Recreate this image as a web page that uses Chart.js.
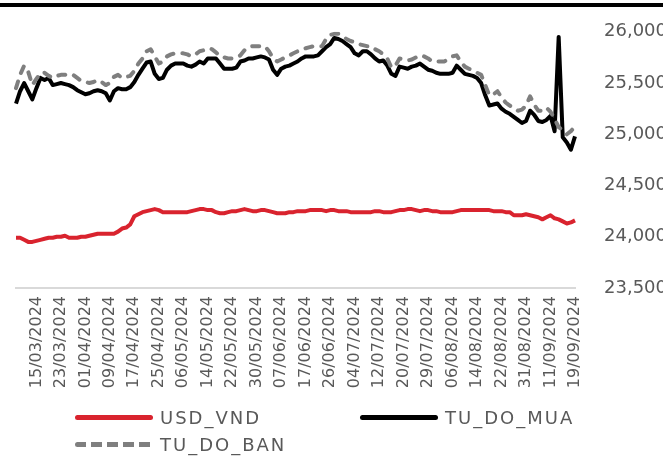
<!DOCTYPE html>
<html>
<head>
<meta charset="utf-8">
<script src="https://cdn.jsdelivr.net/npm/chart.js@4.4.1/dist/chart.umd.min.js"></script>
<style>
  html,body{margin:0;padding:0;background:#fff;}
  #wrap{position:relative;width:663px;height:472px;overflow:hidden;}
  #topline{position:absolute;left:0;top:3px;width:663px;height:4px;background:#000;}
  .lg{position:absolute;display:flex;align-items:center;font-family:"DejaVu Sans",sans-serif;font-size:18px;letter-spacing:2px;color:#595959;}
  .sw{width:78px;height:5px;border-radius:3px;margin-right:7px;}
</style>
</head>
<body>
<div id="wrap">
  <canvas id="chartFx" width="663" height="472"></canvas>
  <div id="topline"></div>
  <div class="lg" style="left:75px;top:407px"><div class="sw" style="background:#d9232e"></div>USD_VND</div>
  <div class="lg" style="left:360px;top:407px"><div class="sw" style="background:#000"></div>TU_DO_MUA</div>
  <div class="lg" style="left:75px;top:434px"><div class="sw" style="background:repeating-linear-gradient(90deg,#7f7f7f 0 11px,transparent 11px 16px)"></div>TU_DO_BAN</div>
</div>
<script>
// ngay hien tren truc X (moi 6 phien 1 nhan)
const tickDates=['15/03/2024','23/03/2024','01/04/2024','09/04/2024','17/04/2024','25/04/2024','06/05/2024','14/05/2024',
  '22/05/2024','30/05/2024','07/06/2024','17/06/2024','26/06/2024','04/07/2024','12/07/2024','20/07/2024','29/07/2024',
  '06/08/2024','14/08/2024','22/08/2024','31/08/2024','11/09/2024','19/09/2024'];

const usdVnd=[
  23990,23990,23970,23950,23950,23960,23970,23980,23990,23990,
  24000,24000,24010,23990,23990,23990,24000,24000,24010,24020,
  24030,24030,24030,24030,24030,24050,24080,24090,24120,24200,
  24220,24240,24250,24260,24270,24260,24240,24240,24240,24240,
  24240,24240,24240,24250,24260,24270,24270,24260,24260,24240,
  24230,24230,24240,24250,24250,24260,24270,24260,24250,24250,
  24260,24260,24250,24240,24230,24230,24230,24240,24240,24250,
  24250,24250,24260,24260,24260,24260,24250,24260,24260,24250,
  24250,24250,24240,24240,24240,24240,24240,24240,24250,24250,
  24240,24240,24240,24250,24260,24260,24270,24270,24260,24250,
  24260,24260,24250,24250,24240,24240,24240,24240,24250,24260,
  24260,24260,24260,24260,24260,24260,24260,24250,24250,24250,
  24240,24240,24210,24210,24210,24220,24210,24200,24190,24170,
  24190,24210,24180,24170,24150,24130,24140,24160];

const tuDoMua=[
  25300,25420,25500,25420,25340,25450,25550,25530,25550,25480,
  25490,25500,25490,25480,25460,25430,25410,25390,25400,25420,
  25430,25420,25400,25330,25420,25450,25440,25440,25460,25510,
  25580,25640,25700,25710,25590,25540,25550,25630,25670,25690,
  25690,25690,25670,25660,25680,25710,25690,25740,25740,25740,
  25690,25640,25640,25640,25650,25710,25720,25740,25740,25750,
  25760,25750,25730,25630,25580,25640,25660,25670,25690,25710,
  25740,25760,25760,25760,25770,25810,25850,25880,25940,25930,
  25910,25880,25850,25790,25770,25810,25810,25780,25740,25710,
  25720,25670,25590,25570,25660,25650,25640,25660,25670,25690,
  25660,25630,25620,25600,25590,25590,25590,25600,25670,25630,
  25590,25580,25570,25550,25500,25380,25280,25290,25300,25250,
  25220,25200,25170,25140,25110,25130,25230,25190,25130,25120,
  25140,25180,25030,25950,24970,24920,24850,24980];

const tuDoBan=[
  25450,25580,25670,25610,25480,25540,25600,25600,25570,25550,
  25570,25580,25580,25590,25580,25550,25520,25510,25500,25510,
  25530,25510,25480,25500,25560,25580,25550,25560,25570,25620,
  25690,25740,25810,25830,25760,25690,25710,25760,25780,25790,
  25790,25790,25780,25760,25780,25810,25820,25840,25830,25800,
  25760,25750,25740,25740,25750,25770,25820,25850,25860,25860,
  25860,25860,25810,25740,25710,25730,25750,25770,25790,25810,
  25820,25840,25850,25860,25860,25860,25930,25970,25980,25980,
  25960,25930,25910,25900,25880,25870,25860,25860,25830,25810,
  25780,25740,25650,25670,25740,25730,25720,25730,25750,25770,
  25760,25740,25710,25710,25710,25710,25740,25760,25770,25710,
  25660,25640,25620,25600,25580,25480,25380,25390,25420,25360,
  25310,25280,25260,25230,25240,25280,25370,25290,25230,25230,
  25260,25220,25150,25070,25040,25000,25030,25080];

const FIRST_TICK=5, TICK_STEP=6;
const labels=usdVnd.map((v,i)=>(i>=FIRST_TICK && (i-FIRST_TICK)%TICK_STEP===0) ? tickDates[(i-FIRST_TICK)/TICK_STEP] : '');

const TXT='#595959';
const FONT='"DejaVu Sans", sans-serif';

new Chart(document.getElementById('chartFx').getContext('2d'),{
  type:'line',
  data:{
    labels:labels,
    datasets:[
      { label:'USD_VND', data:usdVnd, borderColor:'#d9232e', borderWidth:4, order:3 },
      { label:'TU_DO_MUA', data:tuDoMua, borderColor:'#000000', borderWidth:4, order:2 },
      { label:'TU_DO_BAN', data:tuDoBan, borderColor:'#7f7f7f', borderWidth:4, borderDash:[7,9], borderCapStyle:'round', order:1 }
    ]
  },
  options:{
    responsive:false, animation:false,
    layout:{ padding:{ left:16, top:28, right:0, bottom:0 } },
    elements:{ point:{ radius:0 }, line:{ tension:0, borderJoinStyle:'round' } },
    plugins:{ legend:{ display:false }, tooltip:{ enabled:false } },
    scales:{
      x:{
        offset:false,
        afterBuildTicks:s=>{ s.ticks=s.ticks.filter(t=>labels[t.value]!==''); },
        afterFit:s=>{ s.height=472-288; },
        grid:{ display:true, drawOnChartArea:false, drawTicks:false },
        border:{ display:true, color:'#d9d9d9', width:2 },
        ticks:{ autoSkip:false, maxRotation:90, minRotation:90, padding:8, color:TXT, font:{ family:FONT, size:16 } }
      },
      y:{
        position:'right', min:23500, max:26000,
        afterFit:s=>{ s.width=88; },
        grid:{ display:false }, border:{ display:false },
        ticks:{ stepSize:500, padding:21, color:TXT, font:{ family:FONT, size:18 }, callback:v=>v.toLocaleString('en-US') }
      }
    }
  }
});
</script>
</body>
</html>
